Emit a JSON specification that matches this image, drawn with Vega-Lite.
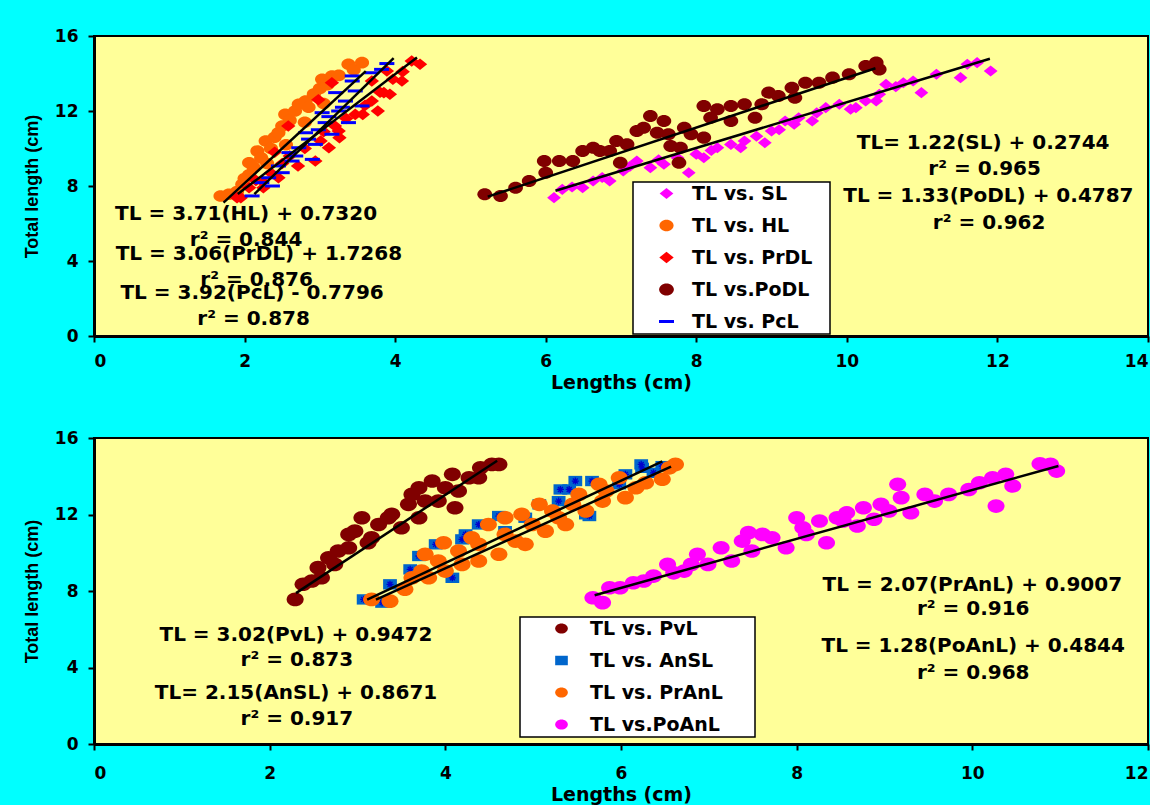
{
 "$schema": "https://vega.github.io/schema/vega-lite/v6.json",
 "background": "#00FFFF",
 "padding": {"left": 22, "top": 26, "right": 0, "bottom": 0},
 "spacing": 35,
 "resolve": {"scale": {"x": "independent", "y": "independent", "color": "independent", "shape": "independent", "size": "independent"}, "legend": {"color": "independent", "shape": "independent"}},
 "config": {
  "view": {"fill": "#FFFF99", "stroke": "black", "strokeWidth": 2},
  "axis": {"labelFont": "DejaVu Sans", "labelFontWeight": "bold", "labelFontSize": 17, "labelColor": "black", "domainColor": "black", "domainWidth": 3, "tickColor": "black", "tickWidth": 2, "tickSize": 6, "grid": false, "titleColor": "black", "titleFontWeight": "bold", "format": "d"},
  "axisX": {"titleFont": "DejaVu Sans", "titleFontSize": 19, "labelPadding": 11, "titlePadding": 4},
  "axisY": {"titleFont": "Liberation Sans", "titleFontSize": 18, "labelPadding": 10, "titlePadding": 13},
  "legend": {"fillColor": "white", "strokeColor": "black", "strokeWidth": 1.5, "padding": 2, "labelFont": "DejaVu Sans", "labelFontWeight": "bold", "labelFontSize": 19, "labelColor": "black", "labelLimit": 400, "symbolSize": 160, "rowPadding": 12, "orient": "none"},
  "text": {"font": "DejaVu Sans", "fontWeight": "bold", "fontSize": 20, "color": "black"}
 },
 "datasets": {
  "topPoints": [
   {"s":"TL vs. SL","x":6.11,"y":7.38},{"s":"TL vs. SL","x":6.22,"y":7.82},{"s":"TL vs. SL","x":6.35,"y":7.95},{"s":"TL vs. SL","x":6.49,"y":7.91},{"s":"TL vs. SL","x":6.63,"y":8.27},{"s":"TL vs. SL","x":6.75,"y":8.45},{"s":"TL vs. SL","x":6.85,"y":8.27},{"s":"TL vs. SL","x":7.03,"y":8.8},{"s":"TL vs. SL","x":7.12,"y":9.05},{"s":"TL vs. SL","x":7.21,"y":9.33},{"s":"TL vs. SL","x":7.39,"y":8.98},{"s":"TL vs. SL","x":7.5,"y":9.4},{"s":"TL vs. SL","x":7.57,"y":9.16},{"s":"TL vs. SL","x":7.75,"y":9.51},{"s":"TL vs. SL","x":7.9,"y":8.71},{"s":"TL vs. SL","x":8.0,"y":9.7},{"s":"TL vs. SL","x":8.1,"y":9.51},{"s":"TL vs. SL","x":8.2,"y":9.9},{"s":"TL vs. SL","x":8.28,"y":10.04},{"s":"TL vs. SL","x":8.46,"y":10.22},{"s":"TL vs. SL","x":8.59,"y":10.04},{"s":"TL vs. SL","x":8.64,"y":10.4},{"s":"TL vs. SL","x":8.8,"y":10.65},{"s":"TL vs. SL","x":8.91,"y":10.31},{"s":"TL vs. SL","x":9.0,"y":10.93},{"s":"TL vs. SL","x":9.1,"y":11.0},{"s":"TL vs. SL","x":9.18,"y":11.47},{"s":"TL vs. SL","x":9.3,"y":11.3},{"s":"TL vs. SL","x":9.36,"y":11.64},{"s":"TL vs. SL","x":9.54,"y":11.47},{"s":"TL vs. SL","x":9.6,"y":11.9},{"s":"TL vs. SL","x":9.72,"y":12.18},{"s":"TL vs. SL","x":9.9,"y":12.36},{"s":"TL vs. SL","x":10.05,"y":12.1},{"s":"TL vs. SL","x":10.12,"y":12.18},{"s":"TL vs. SL","x":10.25,"y":12.53},{"s":"TL vs. SL","x":10.39,"y":12.53},{"s":"TL vs. SL","x":10.43,"y":12.89},{"s":"TL vs. SL","x":10.52,"y":13.42},{"s":"TL vs. SL","x":10.65,"y":13.3},{"s":"TL vs. SL","x":10.75,"y":13.51},{"s":"TL vs. SL","x":10.88,"y":13.6},{"s":"TL vs. SL","x":10.99,"y":12.98},{"s":"TL vs. SL","x":11.19,"y":13.96},{"s":"TL vs. SL","x":11.51,"y":13.78},{"s":"TL vs. SL","x":11.6,"y":14.49},{"s":"TL vs. SL","x":11.73,"y":14.58},{"s":"TL vs. SL","x":11.91,"y":14.13},
   {"s":"TL vs. HL","x":1.68,"y":7.47},{"s":"TL vs. HL","x":1.79,"y":7.56},{"s":"TL vs. HL","x":1.9,"y":7.7},{"s":"TL vs. HL","x":1.97,"y":8.09},{"s":"TL vs. HL","x":2.0,"y":8.4},{"s":"TL vs. HL","x":2.06,"y":8.6},{"s":"TL vs. HL","x":2.06,"y":9.24},{"s":"TL vs. HL","x":2.12,"y":9.0},{"s":"TL vs. HL","x":2.17,"y":9.87},{"s":"TL vs. HL","x":2.22,"y":9.5},{"s":"TL vs. HL","x":2.3,"y":9.2},{"s":"TL vs. HL","x":2.28,"y":10.4},{"s":"TL vs. HL","x":2.35,"y":10.0},{"s":"TL vs. HL","x":2.4,"y":10.6},{"s":"TL vs. HL","x":2.45,"y":10.84},{"s":"TL vs. HL","x":2.5,"y":11.2},{"s":"TL vs. HL","x":2.55,"y":10.2},{"s":"TL vs. HL","x":2.54,"y":11.82},{"s":"TL vs. HL","x":2.6,"y":11.5},{"s":"TL vs. HL","x":2.67,"y":12.0},{"s":"TL vs. HL","x":2.72,"y":12.36},{"s":"TL vs. HL","x":2.8,"y":11.4},{"s":"TL vs. HL","x":2.81,"y":12.53},{"s":"TL vs. HL","x":2.85,"y":12.2},{"s":"TL vs. HL","x":2.92,"y":12.9},{"s":"TL vs. HL","x":3.0,"y":13.2},{"s":"TL vs. HL","x":3.05,"y":12.4},{"s":"TL vs. HL","x":3.03,"y":13.69},{"s":"TL vs. HL","x":3.1,"y":13.4},{"s":"TL vs. HL","x":3.16,"y":13.87},{"s":"TL vs. HL","x":3.25,"y":13.9},{"s":"TL vs. HL","x":3.38,"y":14.49},{"s":"TL vs. HL","x":3.45,"y":14.2},{"s":"TL vs. HL","x":3.56,"y":14.58},
   {"s":"TL vs. PrDL","x":1.9,"y":7.38},{"s":"TL vs. PrDL","x":1.95,"y":7.38},{"s":"TL vs. PrDL","x":2.06,"y":7.91},{"s":"TL vs. PrDL","x":2.15,"y":8.3},{"s":"TL vs. PrDL","x":2.23,"y":8.27},{"s":"TL vs. PrDL","x":2.25,"y":7.91},{"s":"TL vs. PrDL","x":2.35,"y":8.7},{"s":"TL vs. PrDL","x":2.4,"y":9.8},{"s":"TL vs. PrDL","x":2.45,"y":8.44},{"s":"TL vs. PrDL","x":2.5,"y":9.2},{"s":"TL vs. PrDL","x":2.58,"y":11.2},{"s":"TL vs. PrDL","x":2.6,"y":9.6},{"s":"TL vs. PrDL","x":2.71,"y":9.07},{"s":"TL vs. PrDL","x":2.8,"y":10.0},{"s":"TL vs. PrDL","x":2.94,"y":9.33},{"s":"TL vs. PrDL","x":2.98,"y":12.6},{"s":"TL vs. PrDL","x":3.01,"y":10.4},{"s":"TL vs. PrDL","x":3.05,"y":10.9},{"s":"TL vs. PrDL","x":3.12,"y":10.04},{"s":"TL vs. PrDL","x":3.16,"y":13.51},{"s":"TL vs. PrDL","x":3.2,"y":11.2},{"s":"TL vs. PrDL","x":3.25,"y":10.93},{"s":"TL vs. PrDL","x":3.26,"y":10.58},{"s":"TL vs. PrDL","x":3.35,"y":11.6},{"s":"TL vs. PrDL","x":3.47,"y":11.82},{"s":"TL vs. PrDL","x":3.57,"y":11.82},{"s":"TL vs. PrDL","x":3.6,"y":12.3},{"s":"TL vs. PrDL","x":3.69,"y":12.53},{"s":"TL vs. PrDL","x":3.69,"y":13.6},{"s":"TL vs. PrDL","x":3.77,"y":12.0},{"s":"TL vs. PrDL","x":3.8,"y":13.0},{"s":"TL vs. PrDL","x":3.85,"y":12.98},{"s":"TL vs. PrDL","x":3.89,"y":14.13},{"s":"TL vs. PrDL","x":3.93,"y":12.89},{"s":"TL vs. PrDL","x":3.97,"y":13.69},{"s":"TL vs. PrDL","x":4.09,"y":13.6},{"s":"TL vs. PrDL","x":4.1,"y":14.1},{"s":"TL vs. PrDL","x":4.22,"y":14.67},{"s":"TL vs. PrDL","x":4.33,"y":14.49},
   {"s":"TL vs.PoDL","x":5.19,"y":7.56},{"s":"TL vs.PoDL","x":5.4,"y":7.47},{"s":"TL vs.PoDL","x":5.6,"y":7.91},{"s":"TL vs.PoDL","x":5.78,"y":8.27},{"s":"TL vs.PoDL","x":5.98,"y":9.33},{"s":"TL vs.PoDL","x":6.0,"y":8.71},{"s":"TL vs.PoDL","x":6.18,"y":9.33},{"s":"TL vs.PoDL","x":6.36,"y":9.33},{"s":"TL vs.PoDL","x":6.49,"y":9.87},{"s":"TL vs.PoDL","x":6.63,"y":10.04},{"s":"TL vs.PoDL","x":6.72,"y":9.87},{"s":"TL vs.PoDL","x":6.85,"y":9.87},{"s":"TL vs.PoDL","x":6.94,"y":10.4},{"s":"TL vs.PoDL","x":6.99,"y":9.24},{"s":"TL vs.PoDL","x":7.08,"y":10.22},{"s":"TL vs.PoDL","x":7.21,"y":10.93},{"s":"TL vs.PoDL","x":7.3,"y":11.11},{"s":"TL vs.PoDL","x":7.39,"y":11.73},{"s":"TL vs.PoDL","x":7.48,"y":10.84},{"s":"TL vs.PoDL","x":7.57,"y":11.47},{"s":"TL vs.PoDL","x":7.63,"y":10.76},{"s":"TL vs.PoDL","x":7.66,"y":10.13},{"s":"TL vs.PoDL","x":7.77,"y":9.24},{"s":"TL vs.PoDL","x":7.79,"y":10.04},{"s":"TL vs.PoDL","x":7.84,"y":11.11},{"s":"TL vs.PoDL","x":7.93,"y":10.76},{"s":"TL vs.PoDL","x":8.1,"y":10.58},{"s":"TL vs.PoDL","x":8.1,"y":12.27},{"s":"TL vs.PoDL","x":8.19,"y":11.64},{"s":"TL vs.PoDL","x":8.28,"y":12.09},{"s":"TL vs.PoDL","x":8.46,"y":12.27},{"s":"TL vs.PoDL","x":8.46,"y":11.47},{"s":"TL vs.PoDL","x":8.64,"y":12.36},{"s":"TL vs.PoDL","x":8.78,"y":11.64},{"s":"TL vs.PoDL","x":8.87,"y":12.36},{"s":"TL vs.PoDL","x":8.96,"y":12.98},{"s":"TL vs.PoDL","x":9.09,"y":12.8},{"s":"TL vs.PoDL","x":9.27,"y":13.24},{"s":"TL vs.PoDL","x":9.31,"y":12.71},{"s":"TL vs.PoDL","x":9.45,"y":13.51},{"s":"TL vs.PoDL","x":9.63,"y":13.51},{"s":"TL vs.PoDL","x":9.81,"y":13.78},{"s":"TL vs.PoDL","x":10.03,"y":13.96},{"s":"TL vs.PoDL","x":10.25,"y":14.4},{"s":"TL vs.PoDL","x":10.39,"y":14.58},{"s":"TL vs.PoDL","x":10.43,"y":14.22},
   {"s":"TL vs. PcL","x":2.1,"y":7.47},{"s":"TL vs. PcL","x":2.23,"y":8.18},{"s":"TL vs. PcL","x":2.32,"y":8.44},{"s":"TL vs. PcL","x":2.37,"y":8.0},{"s":"TL vs. PcL","x":2.45,"y":9.07},{"s":"TL vs. PcL","x":2.5,"y":8.71},{"s":"TL vs. PcL","x":2.59,"y":9.78},{"s":"TL vs. PcL","x":2.63,"y":9.33},{"s":"TL vs. PcL","x":2.68,"y":9.6},{"s":"TL vs. PcL","x":2.72,"y":10.04},{"s":"TL vs. PcL","x":2.81,"y":10.84},{"s":"TL vs. PcL","x":2.85,"y":10.5},{"s":"TL vs. PcL","x":2.9,"y":9.42},{"s":"TL vs. PcL","x":2.94,"y":10.22},{"s":"TL vs. PcL","x":2.98,"y":11.0},{"s":"TL vs. PcL","x":3.03,"y":11.91},{"s":"TL vs. PcL","x":3.07,"y":11.38},{"s":"TL vs. PcL","x":3.12,"y":11.7},{"s":"TL vs. PcL","x":3.16,"y":10.76},{"s":"TL vs. PcL","x":3.21,"y":12.98},{"s":"TL vs. PcL","x":3.25,"y":12.0},{"s":"TL vs. PcL","x":3.3,"y":12.2},{"s":"TL vs. PcL","x":3.34,"y":12.53},{"s":"TL vs. PcL","x":3.38,"y":11.38},{"s":"TL vs. PcL","x":3.43,"y":13.6},{"s":"TL vs. PcL","x":3.43,"y":13.87},{"s":"TL vs. PcL","x":3.47,"y":13.07},{"s":"TL vs. PcL","x":3.56,"y":12.27},{"s":"TL vs. PcL","x":3.69,"y":14.04},{"s":"TL vs. PcL","x":3.82,"y":14.22},{"s":"TL vs. PcL","x":3.89,"y":14.53}
  ],
  "topLines": [
   {"s":"SL","x":6.13,"y":7.75},{"s":"SL","x":11.9,"y":14.79},
   {"s":"HL","x":1.72,"y":7.11},{"s":"HL","x":3.61,"y":14.13},
   {"s":"PrDL","x":1.91,"y":7.57},{"s":"PrDL","x":4.29,"y":14.85},
   {"s":"PoDL","x":5.23,"y":7.43},{"s":"PoDL","x":10.38,"y":14.28},
   {"s":"PcL","x":2.13,"y":7.57},{"s":"PcL","x":3.98,"y":14.82}
  ],
  "topText": [
   {"t":"TL = 3.71(HL) + 0.7320","x":2.02,"y":6.49},
   {"t":"r² = 0.844","x":2.02,"y":5.1},
   {"t":"TL = 3.06(PrDL) + 1.7268","x":2.19,"y":4.36},
   {"t":"r² = 0.876","x":2.16,"y":2.97},
   {"t":"TL = 3.92(PcL) - 0.7796","x":2.1,"y":2.29},
   {"t":"r² = 0.878","x":2.12,"y":0.92},
   {"t":"TL= 1.22(SL) + 0.2744","x":11.81,"y":10.31},
   {"t":"r² = 0.965","x":11.83,"y":8.89},
   {"t":"TL = 1.33(PoDL) + 0.4787","x":11.88,"y":7.47},
   {"t":"r² = 0.962","x":11.89,"y":6.04}
  ],
  "botPoints": [
   {"s":"TL vs. PvL","x":2.29,"y":7.56},{"s":"TL vs. PvL","x":2.38,"y":8.35},{"s":"TL vs. PvL","x":2.48,"y":8.52},{"s":"TL vs. PvL","x":2.55,"y":9.22},{"s":"TL vs. PvL","x":2.59,"y":8.69},{"s":"TL vs. PvL","x":2.67,"y":9.74},{"s":"TL vs. PvL","x":2.74,"y":9.39},{"s":"TL vs. PvL","x":2.78,"y":10.09},{"s":"TL vs. PvL","x":2.9,"y":10.96},{"s":"TL vs. PvL","x":2.9,"y":10.26},{"s":"TL vs. PvL","x":2.97,"y":11.13},{"s":"TL vs. PvL","x":3.05,"y":11.83},{"s":"TL vs. PvL","x":3.12,"y":10.52},{"s":"TL vs. PvL","x":3.16,"y":10.78},{"s":"TL vs. PvL","x":3.24,"y":11.48},{"s":"TL vs. PvL","x":3.35,"y":11.83},{"s":"TL vs. PvL","x":3.39,"y":12.01},{"s":"TL vs. PvL","x":3.5,"y":11.31},{"s":"TL vs. PvL","x":3.58,"y":12.53},{"s":"TL vs. PvL","x":3.62,"y":13.05},{"s":"TL vs. PvL","x":3.7,"y":13.4},{"s":"TL vs. PvL","x":3.7,"y":11.83},{"s":"TL vs. PvL","x":3.77,"y":12.7},{"s":"TL vs. PvL","x":3.85,"y":13.75},{"s":"TL vs. PvL","x":3.92,"y":12.7},{"s":"TL vs. PvL","x":4.0,"y":13.4},{"s":"TL vs. PvL","x":4.08,"y":14.1},{"s":"TL vs. PvL","x":4.11,"y":12.35},{"s":"TL vs. PvL","x":4.15,"y":13.23},{"s":"TL vs. PvL","x":4.27,"y":13.92},{"s":"TL vs. PvL","x":4.38,"y":13.92},{"s":"TL vs. PvL","x":4.4,"y":14.44},{"s":"TL vs. PvL","x":4.53,"y":14.62},{"s":"TL vs. PvL","x":4.61,"y":14.62},
   {"s":"TL vs. AnSL","x":3.07,"y":7.56},{"s":"TL vs. AnSL","x":3.28,"y":7.39},{"s":"TL vs. AnSL","x":3.37,"y":8.35},{"s":"TL vs. AnSL","x":3.6,"y":9.13},{"s":"TL vs. AnSL","x":3.7,"y":9.83},{"s":"TL vs. AnSL","x":3.89,"y":10.44},{"s":"TL vs. AnSL","x":4.08,"y":8.69},{"s":"TL vs. AnSL","x":4.19,"y":10.7},{"s":"TL vs. AnSL","x":4.23,"y":10.96},{"s":"TL vs. AnSL","x":4.38,"y":11.48},{"s":"TL vs. AnSL","x":4.61,"y":11.92},{"s":"TL vs. AnSL","x":4.68,"y":11.13},{"s":"TL vs. AnSL","x":4.91,"y":11.83},{"s":"TL vs. AnSL","x":5.07,"y":12.53},{"s":"TL vs. AnSL","x":5.29,"y":12.7},{"s":"TL vs. AnSL","x":5.31,"y":13.31},{"s":"TL vs. AnSL","x":5.41,"y":13.31},{"s":"TL vs. AnSL","x":5.48,"y":13.75},{"s":"TL vs. AnSL","x":5.6,"y":12.01},{"s":"TL vs. AnSL","x":5.64,"y":11.92},{"s":"TL vs. AnSL","x":5.67,"y":13.75},{"s":"TL vs. AnSL","x":5.98,"y":13.58},{"s":"TL vs. AnSL","x":6.05,"y":14.1},{"s":"TL vs. AnSL","x":6.23,"y":14.62},{"s":"TL vs. AnSL","x":6.24,"y":14.44},{"s":"TL vs. AnSL","x":6.37,"y":14.18},{"s":"TL vs. AnSL","x":6.47,"y":14.53},
   {"s":"TL vs. PrAnL","x":3.16,"y":7.56},{"s":"TL vs. PrAnL","x":3.37,"y":7.47},{"s":"TL vs. PrAnL","x":3.54,"y":8.09},{"s":"TL vs. PrAnL","x":3.62,"y":8.69},{"s":"TL vs. PrAnL","x":3.73,"y":9.04},{"s":"TL vs. PrAnL","x":3.77,"y":9.92},{"s":"TL vs. PrAnL","x":3.81,"y":8.69},{"s":"TL vs. PrAnL","x":3.92,"y":9.57},{"s":"TL vs. PrAnL","x":3.98,"y":10.52},{"s":"TL vs. PrAnL","x":4.0,"y":9.04},{"s":"TL vs. PrAnL","x":4.15,"y":10.09},{"s":"TL vs. PrAnL","x":4.19,"y":9.39},{"s":"TL vs. PrAnL","x":4.3,"y":10.78},{"s":"TL vs. PrAnL","x":4.38,"y":9.57},{"s":"TL vs. PrAnL","x":4.38,"y":10.44},{"s":"TL vs. PrAnL","x":4.49,"y":11.48},{"s":"TL vs. PrAnL","x":4.61,"y":9.92},{"s":"TL vs. PrAnL","x":4.68,"y":11.83},{"s":"TL vs. PrAnL","x":4.68,"y":10.96},{"s":"TL vs. PrAnL","x":4.8,"y":10.61},{"s":"TL vs. PrAnL","x":4.87,"y":12.01},{"s":"TL vs. PrAnL","x":4.91,"y":10.44},{"s":"TL vs. PrAnL","x":4.99,"y":11.48},{"s":"TL vs. PrAnL","x":5.07,"y":12.53},{"s":"TL vs. PrAnL","x":5.14,"y":11.13},{"s":"TL vs. PrAnL","x":5.22,"y":12.18},{"s":"TL vs. PrAnL","x":5.29,"y":11.83},{"s":"TL vs. PrAnL","x":5.37,"y":11.48},{"s":"TL vs. PrAnL","x":5.45,"y":12.53},{"s":"TL vs. PrAnL","x":5.52,"y":13.05},{"s":"TL vs. PrAnL","x":5.6,"y":12.18},{"s":"TL vs. PrAnL","x":5.75,"y":13.58},{"s":"TL vs. PrAnL","x":5.79,"y":12.7},{"s":"TL vs. PrAnL","x":5.83,"y":13.23},{"s":"TL vs. PrAnL","x":5.98,"y":13.92},{"s":"TL vs. PrAnL","x":6.05,"y":12.88},{"s":"TL vs. PrAnL","x":6.17,"y":13.4},{"s":"TL vs. PrAnL","x":6.28,"y":13.66},{"s":"TL vs. PrAnL","x":6.47,"y":13.84},{"s":"TL vs. PrAnL","x":6.55,"y":14.44},{"s":"TL vs. PrAnL","x":6.62,"y":14.62},
   {"s":"TL vs.PoAnL","x":5.68,"y":7.65},{"s":"TL vs.PoAnL","x":5.79,"y":7.39},{"s":"TL vs.PoAnL","x":5.87,"y":8.17},{"s":"TL vs.PoAnL","x":5.99,"y":8.17},{"s":"TL vs.PoAnL","x":6.14,"y":8.43},{"s":"TL vs.PoAnL","x":6.26,"y":8.52},{"s":"TL vs.PoAnL","x":6.37,"y":8.78},{"s":"TL vs.PoAnL","x":6.53,"y":9.39},{"s":"TL vs.PoAnL","x":6.6,"y":8.95},{"s":"TL vs.PoAnL","x":6.72,"y":9.04},{"s":"TL vs.PoAnL","x":6.8,"y":9.39},{"s":"TL vs.PoAnL","x":6.87,"y":9.92},{"s":"TL vs.PoAnL","x":6.99,"y":9.39},{"s":"TL vs.PoAnL","x":7.14,"y":10.26},{"s":"TL vs.PoAnL","x":7.26,"y":9.57},{"s":"TL vs.PoAnL","x":7.38,"y":10.61},{"s":"TL vs.PoAnL","x":7.45,"y":11.05},{"s":"TL vs.PoAnL","x":7.49,"y":10.09},{"s":"TL vs.PoAnL","x":7.61,"y":10.96},{"s":"TL vs.PoAnL","x":7.72,"y":10.78},{"s":"TL vs.PoAnL","x":7.88,"y":10.26},{"s":"TL vs.PoAnL","x":8.0,"y":11.83},{"s":"TL vs.PoAnL","x":8.07,"y":11.31},{"s":"TL vs.PoAnL","x":8.11,"y":10.96},{"s":"TL vs.PoAnL","x":8.26,"y":11.66},{"s":"TL vs.PoAnL","x":8.34,"y":10.52},{"s":"TL vs.PoAnL","x":8.46,"y":11.83},{"s":"TL vs.PoAnL","x":8.53,"y":11.66},{"s":"TL vs.PoAnL","x":8.57,"y":12.09},{"s":"TL vs.PoAnL","x":8.69,"y":11.4},{"s":"TL vs.PoAnL","x":8.76,"y":12.35},{"s":"TL vs.PoAnL","x":8.88,"y":11.75},{"s":"TL vs.PoAnL","x":8.96,"y":12.53},{"s":"TL vs.PoAnL","x":9.05,"y":12.18},{"s":"TL vs.PoAnL","x":9.15,"y":13.58},{"s":"TL vs.PoAnL","x":9.19,"y":12.88},{"s":"TL vs.PoAnL","x":9.3,"y":12.09},{"s":"TL vs.PoAnL","x":9.46,"y":13.05},{"s":"TL vs.PoAnL","x":9.57,"y":12.7},{"s":"TL vs.PoAnL","x":9.73,"y":13.05},{"s":"TL vs.PoAnL","x":9.96,"y":13.31},{"s":"TL vs.PoAnL","x":10.08,"y":13.66},{"s":"TL vs.PoAnL","x":10.23,"y":13.92},{"s":"TL vs.PoAnL","x":10.27,"y":12.44},{"s":"TL vs.PoAnL","x":10.38,"y":14.1},{"s":"TL vs.PoAnL","x":10.46,"y":13.49},{"s":"TL vs.PoAnL","x":10.77,"y":14.65},{"s":"TL vs.PoAnL","x":10.89,"y":14.62},{"s":"TL vs.PoAnL","x":10.96,"y":14.27}
  ],
  "botLines": [
   {"s":"PvL","x":2.3,"y":7.89},{"s":"PvL","x":4.59,"y":14.81},
   {"s":"AnSL","x":3.11,"y":7.55},{"s":"AnSL","x":6.47,"y":14.78},
   {"s":"PrAnL","x":3.21,"y":7.55},{"s":"PrAnL","x":6.57,"y":14.5},
   {"s":"PoAnL","x":5.7,"y":7.78},{"s":"PoAnL","x":10.98,"y":14.54}
  ],
  "botText": [
   {"t":"TL = 3.02(PvL) + 0.9472","x":2.3,"y":5.68},
   {"t":"r² = 0.873","x":2.31,"y":4.39},
   {"t":"TL= 2.15(AnSL) + 0.8671","x":2.3,"y":2.65},
   {"t":"r² = 0.917","x":2.31,"y":1.32},
   {"t":"TL = 2.07(PrAnL) + 0.9007","x":10.0,"y":8.3},
   {"t":"r² = 0.916","x":10.01,"y":7.04},
   {"t":"TL = 1.28(PoAnL) + 0.4844","x":10.01,"y":5.12},
   {"t":"r² = 0.968","x":10.01,"y":3.73}
  ]
 },
 "vconcat": [
  {
   "width": 1054,
   "height": 300,
   "layer": [
    {
     "data": {"name": "topPoints"},
     "mark": {"type": "point", "filled": true, "opacity": 1},
     "encoding": {
      "x": {"field": "x", "type": "quantitative", "title": "Lengths (cm)", "scale": {"domain": [0, 14], "nice": false}, "axis": {"values": [0, 2, 4, 6, 8, 10, 12, 14]}},
      "y": {"field": "y", "type": "quantitative", "title": "Total length (cm)", "scale": {"domain": [0, 16], "nice": false}, "axis": {"values": [0, 2, 4, 6, 8, 10, 12, 14, 16]}},
      "color": {"field": "s", "type": "nominal", "scale": {"domain": ["TL vs. SL", "TL vs. HL", "TL vs. PrDL", "TL vs.PoDL", "TL vs. PcL"], "range": ["#FF00FF", "#FF6600", "#FF0000", "#800000", "#0000FF"]}, "legend": {"title": null, "legendX": 539, "legendY": 146, "symbolOffset": 22, "labelOffset": 16, "labelExpr": "datum.label + '\u2800'"}},
      "shape": {"field": "s", "type": "nominal", "scale": {"domain": ["TL vs. SL", "TL vs. HL", "TL vs. PrDL", "TL vs.PoDL", "TL vs. PcL"], "range": ["M0 -0.8L1 0L0 0.8L-1 0Z", "M-1 0A1 0.82 0 1 1 1 0A1 0.82 0 1 1 -1 0Z", "M0 -0.8L1 0L0 0.8L-1 0Z", "M-1 0A1 0.82 0 1 1 1 0A1 0.82 0 1 1 -1 0Z", "M-1 -0.2L1 -0.2L1 0.2L-1 0.2Z"]}, "legend": {"title": null, "legendX": 539, "legendY": 146, "symbolOffset": 22, "labelOffset": 16, "labelExpr": "datum.label + '\u2800'"}},
      "size": {"field": "s", "type": "nominal", "scale": {"domain": ["TL vs. SL", "TL vs. HL", "TL vs. PrDL", "TL vs.PoDL", "TL vs. PcL"], "range": [190, 225, 235, 285, 225]}, "legend": null}
     }
    },
    {
     "data": {"name": "topLines"},
     "mark": {"type": "line", "color": "black", "strokeWidth": 2.5},
     "encoding": {
      "x": {"field": "x", "type": "quantitative", "title": "Lengths (cm)"},
      "y": {"field": "y", "type": "quantitative", "title": "Total length (cm)"},
      "detail": {"field": "s", "type": "nominal"}
     }
    },
    {
     "data": {"name": "topText"},
     "mark": {"type": "text", "align": "center", "baseline": "middle"},
     "encoding": {
      "x": {"field": "x", "type": "quantitative", "title": "Lengths (cm)"},
      "y": {"field": "y", "type": "quantitative", "title": "Total length (cm)"},
      "text": {"field": "t"}
     }
    }
   ]
  },
  {
   "width": 1054,
   "height": 306,
   "layer": [
    {
     "data": {"name": "botPoints"},
     "transform": [{"filter": "datum.s === 'TL vs. PvL'"}],
     "mark": {"type": "point", "filled": true, "opacity": 1, "size": 290},
     "encoding": {
      "x": {"field": "x", "type": "quantitative", "title": "Lengths (cm)", "scale": {"domain": [0, 12], "nice": false}, "axis": {"values": [0, 2, 4, 6, 8, 10, 12], "labelPadding": 15}},
      "y": {"field": "y", "type": "quantitative", "title": "Total length (cm)", "scale": {"domain": [0, 16], "nice": false}, "axis": {"values": [0, 2, 4, 6, 8, 10, 12, 14, 16]}},
      "color": {"field": "s", "type": "nominal", "scale": {"domain": ["TL vs. PvL", "TL vs. AnSL", "TL vs. PrAnL", "TL vs.PoAnL"], "range": ["#800000", "#0066CC", "#FF6600", "#FF00FF"]}, "legend": {"title": null, "legendX": 426, "legendY": 179, "symbolOffset": 30, "labelOffset": 19, "labelExpr": "datum.label + '\u2800\u2800'"}},
      "shape": {"field": "s", "type": "nominal", "scale": {"domain": ["TL vs. PvL", "TL vs. AnSL", "TL vs. PrAnL", "TL vs.PoAnL"], "range": ["M-1 0A1 0.8 0 1 1 1 0A1 0.8 0 1 1 -1 0Z", "M-1 -0.75L1 -0.75L1 0.75L-1 0.75Z", "M-1 0A1 0.8 0 1 1 1 0A1 0.8 0 1 1 -1 0Z", "M-1 0A1 0.8 0 1 1 1 0A1 0.8 0 1 1 -1 0Z"]}, "legend": {"title": null, "legendX": 426, "legendY": 179, "symbolOffset": 30, "labelOffset": 19, "labelExpr": "datum.label + '\u2800\u2800'"}}
     }
    },
    {
     "data": {"name": "botPoints"},
     "transform": [{"filter": "datum.s === 'TL vs. AnSL'"}],
     "mark": {"type": "point", "filled": true, "opacity": 1, "size": 190},
     "encoding": {
      "x": {"field": "x", "type": "quantitative", "title": "Lengths (cm)"},
      "y": {"field": "y", "type": "quantitative", "title": "Total length (cm)"},
      "color": {"field": "s", "type": "nominal"},
      "shape": {"field": "s", "type": "nominal"}
     }
    },
    {
     "data": {"name": "botPoints"},
     "transform": [{"filter": "datum.s === 'TL vs. AnSL'"}],
     "mark": {"type": "point", "filled": false, "opacity": 1, "size": 50, "color": "#0000CC", "strokeWidth": 1.3, "shape": "M-1 0L1 0M0 -1L0 1M-0.7 -0.7L0.7 0.7M0.7 -0.7L-0.7 0.7"},
     "encoding": {
      "x": {"field": "x", "type": "quantitative", "title": "Lengths (cm)"},
      "y": {"field": "y", "type": "quantitative", "title": "Total length (cm)"}
     }
    },
    {
     "data": {"name": "botPoints"},
     "transform": [{"filter": "datum.s === 'TL vs. PrAnL' || datum.s === 'TL vs.PoAnL'"}],
     "mark": {"type": "point", "filled": true, "opacity": 1, "size": 290},
     "encoding": {
      "x": {"field": "x", "type": "quantitative", "title": "Lengths (cm)"},
      "y": {"field": "y", "type": "quantitative", "title": "Total length (cm)"},
      "color": {"field": "s", "type": "nominal"},
      "shape": {"field": "s", "type": "nominal"}
     }
    },
    {
     "data": {"name": "botLines"},
     "mark": {"type": "line", "color": "black", "strokeWidth": 2.5},
     "encoding": {
      "x": {"field": "x", "type": "quantitative", "title": "Lengths (cm)"},
      "y": {"field": "y", "type": "quantitative", "title": "Total length (cm)"},
      "detail": {"field": "s", "type": "nominal"}
     }
    },
    {
     "data": {"name": "botText"},
     "mark": {"type": "text", "align": "center", "baseline": "middle"},
     "encoding": {
      "x": {"field": "x", "type": "quantitative", "title": "Lengths (cm)"},
      "y": {"field": "y", "type": "quantitative", "title": "Total length (cm)"},
      "text": {"field": "t"}
     }
    }
   ]
  }
 ]
}
